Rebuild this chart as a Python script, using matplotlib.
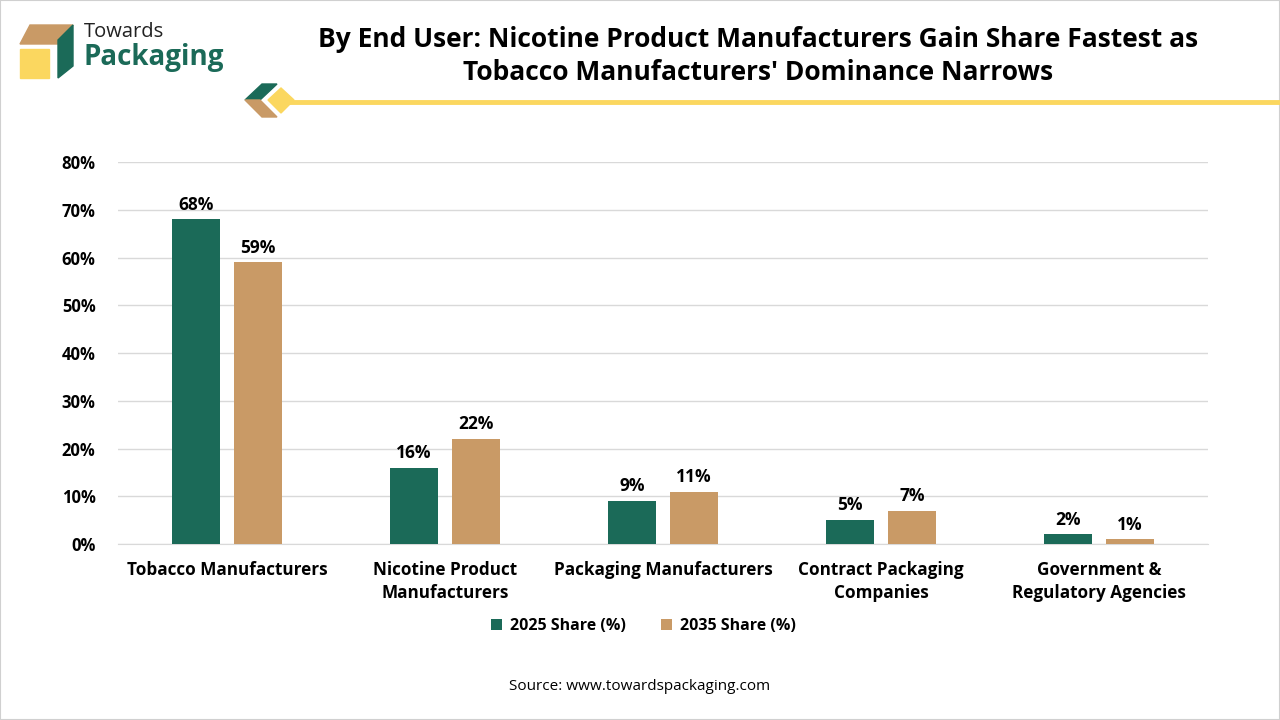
import matplotlib.pyplot as plt
from matplotlib.patches import Polygon, Rectangle

# Datos
categorias = ["Tobacco Manufacturers", "Nicotine Product\nManufacturers",
              "Packaging Manufacturers", "Contract Packaging\nCompanies",
              "Government &\nRegulatory Agencies"]
share_2025 = [68, 16, 9, 5, 2]
share_2035 = [59, 22, 11, 7, 1]
series = ["2025 Share (%)", "2035 Share (%)"]
yticks = [0, 10, 20, 30, 40, 50, 60, 70, 80]

verde = "#1b6a58"
cafe = "#c99a66"
amarillo = "#fbd75f"

plt.rcParams['font.family'] = ['Open Sans', 'DejaVu Sans']

fig = plt.figure(figsize=(12.8, 7.2), dpi=100)
ax = fig.add_axes([0.092, 0.2444, 0.852, 0.5306])

x = list(range(len(categorias)))
w = 0.22
off = 0.142
b1 = ax.bar([i - off for i in x], share_2025, width=w, color=verde, label=series[0], zorder=3)
b2 = ax.bar([i + off for i in x], share_2035, width=w, color=cafe, label=series[1], zorder=3)
for bars, vals in ((b1, share_2025), (b2, share_2035)):
    for r, v in zip(bars, vals):
        ax.text(r.get_x() + r.get_width() / 2, v + 1.2, f"{v}%", ha="center", va="bottom",
                fontsize=12.5, fontweight="bold")

ax.set_xlim(-0.5, 4.5)
ax.set_ylim(0, 80)
ax.set_yticks(yticks)
ax.set_yticklabels([f"{t}%" for t in yticks], fontsize=12, fontweight="bold")
ax.set_xticks(x)
ax.set_xticklabels(categorias, fontsize=12.3, fontweight="bold", linespacing=1.4)
ax.tick_params(axis="both", length=0, pad=12)
ax.tick_params(axis="y", pad=16)
ax.grid(axis="y", color="#d9d9d9", linewidth=1, zorder=0)
for s in ax.spines.values():
    s.set_visible(False)
ax.spines["bottom"].set_visible(True)
ax.spines["bottom"].set_color("#d9d9d9")

ax.legend(loc="center", bbox_to_anchor=(0.482, -0.215), ncol=2, frameon=False,
          prop={"size": 11.5, "weight": "bold"}, handlelength=0.7, handleheight=0.7,
          columnspacing=2.2, handletextpad=0.5)

# Titulo
fig.text(0.592, 0.922, "By End User: Nicotine Product Manufacturers Gain Share Fastest as\n"
         "Tobacco Manufacturers' Dominance Narrows", ha="center", va="center",
         fontsize=19, fontweight="bold", linespacing=1.3)

fig.text(0.5, 0.047, "Source: www.towardspackaging.com", ha="center", va="center", fontsize=11)

# Logo
def px(xp, yp):
    return (xp / 1280, 1 - yp / 720)

fig.patches.append(Polygon([px(20, 44), px(30, 25), px(73, 25), px(63, 44)], closed=True,
                           transform=fig.transFigure, color=cafe))
fig.patches.append(Polygon([px(20, 49), px(49, 49), px(49, 78), px(20, 78)], closed=True,
                           transform=fig.transFigure, color=amarillo))
fig.patches.append(Polygon([px(58, 40), px(73, 25), px(73, 66), px(58, 78)], closed=True,
                           transform=fig.transFigure, color=verde))
fig.text(84 / 1280, 1 - 32 / 720, "Towards", fontsize=14.5, color="#222222", va="center")
fig.text(84 / 1280, 1 - 58 / 720, "Packaging", fontsize=20, fontweight="bold", color=verde, va="center")

# Decoracion
fig.patches.append(Polygon([px(245, 100), px(262, 84), px(277, 84), px(260, 100)], closed=True,
                           transform=fig.transFigure, color=verde))
fig.patches.append(Polygon([px(245, 100), px(260, 100), px(277, 117), px(262, 117)], closed=True,
                           transform=fig.transFigure, color=cafe))
fig.patches.append(Polygon([px(268, 100), px(281, 88), px(294, 100), px(281, 113)], closed=True,
                           transform=fig.transFigure, color=amarillo))
fig.lines.append(plt.Line2D([290 / 1280, 1.0], [1 - 102 / 720] * 2, transform=fig.transFigure,
                            color=amarillo, linewidth=3.5))

fig.patches.append(Rectangle((0, 0), 1, 1, transform=fig.transFigure, fill=False,
                             edgecolor="#d0d0d0", linewidth=1.5))

fig.savefig("out.png", dpi=100)
